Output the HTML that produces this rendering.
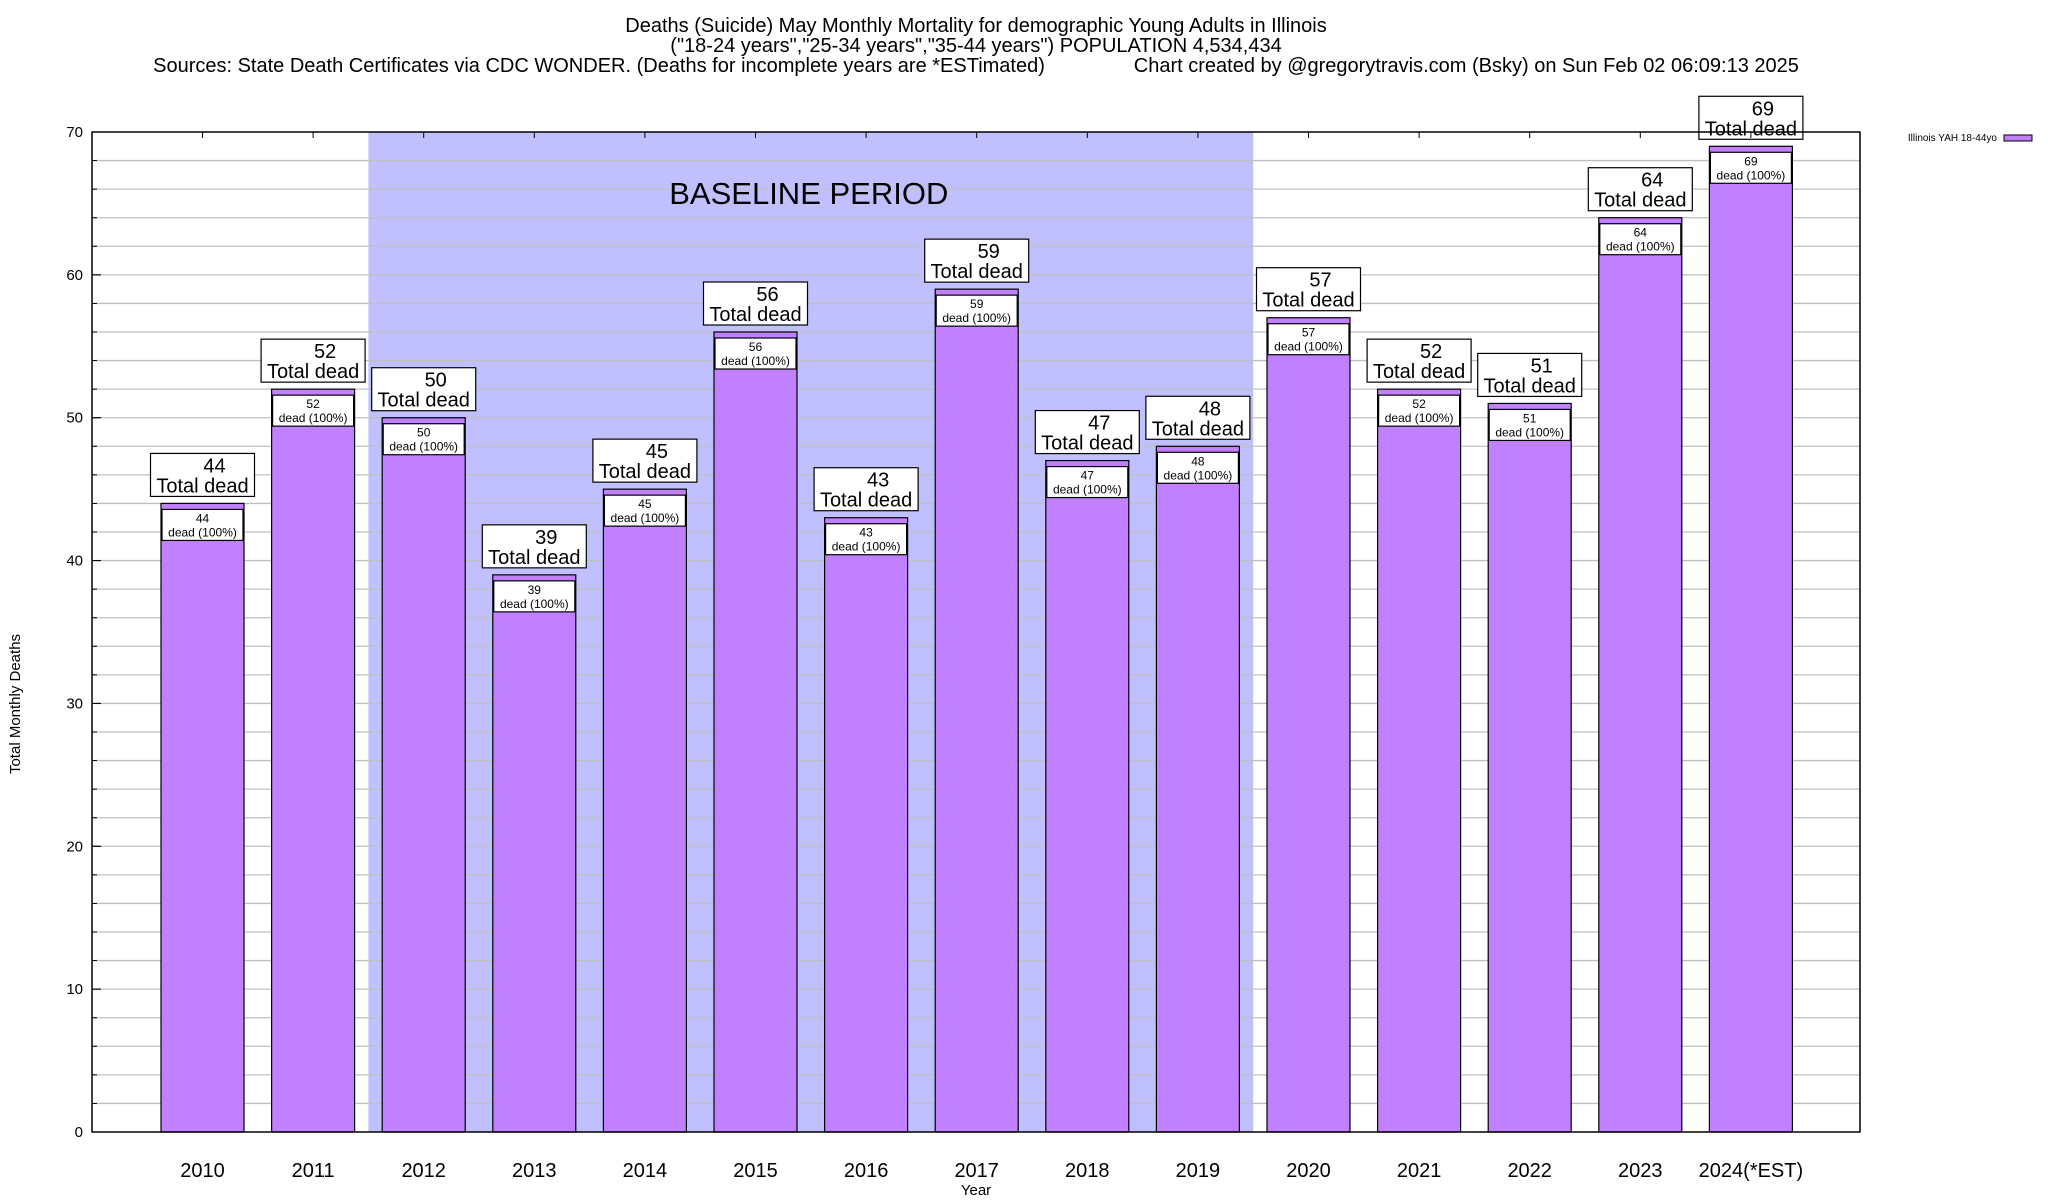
<!DOCTYPE html>
<html><head><meta charset="utf-8"><style>
body{margin:0;background:#fff}
svg{display:block;font-family:"Liberation Sans",Arial,sans-serif}
</style></head><body>
<svg id="chart" width="2048" height="1200" xmlns="http://www.w3.org/2000/svg">
<g font-size="20" text-anchor="middle">
<text x="976" y="32">Deaths (Suicide) May Monthly Mortality for demographic Young Adults in Illinois</text>
<text x="976" y="52">("18-24 years","25-34 years","35-44 years") POPULATION 4,534,434</text>
<text x="976" y="72" xml:space="preserve">Sources: State Death Certificates via CDC WONDER. (Deaths for incomplete years are *ESTimated)                Chart created by @gregorytravis.com (Bsky) on Sun Feb 02 06:09:13 2025</text>
</g>
<g id="plot"></g>
<text transform="translate(20,704) rotate(-90)" font-size="15" text-anchor="middle">Total Monthly Deaths</text>
<text x="976" y="1195" font-size="15" text-anchor="middle">Year</text>
<g>
<text x="1997" y="141" font-size="10" text-anchor="end">Illinois YAH 18-44yo</text>
<rect x="2004" y="135" width="28" height="6" fill="#c080ff" stroke="#000" stroke-width="1"/>
</g>
</svg>
<script>
const categories=["2010","2011","2012","2013","2014","2015","2016","2017","2018","2019","2020","2021","2022","2023","2024(*EST)"];
const values=[44,52,50,39,45,56,43,59,47,48,57,52,51,64,69];
const yTicks=[0,10,20,30,40,50,60,70];
const baselineRange=["2012","2019"];
const NS="http://www.w3.org/2000/svg";
const L=92,R=1860,T=132,B=1132,yMax=70;
const y=v=>B-v/yMax*(B-T);
const step=110.6,x0=202.5;
const x=i=>x0+i*step;
const g=document.getElementById('plot');
function mk(t,a,p){const e=document.createElementNS(NS,t);for(const k in a)e.setAttribute(k,a[k]);(p||g).appendChild(e);return e;}
// baseline shading
const bi0=categories.indexOf(baselineRange[0]),bi1=categories.indexOf(baselineRange[1]);
const sh=mk('rect',{x:x(bi0)-step/2,y:T,width:(bi1-bi0+1)*step,height:B-T,fill:'#c0c0ff'});


// gridlines every 2
for(let v=2;v<yMax;v+=2){const l=mk('line',{x1:L,x2:R,y1:y(v),y2:y(v),stroke:'#c0c0c0','stroke-width':1.3});


mk('line',{x1:L,x2:L+(v%10?5:9),y1:y(v),y2:y(v),stroke:'#000'});}
const bt=mk('text',{x:(x(bi0)+x(bi1))/2-2,y:204,'font-size':31,'text-anchor':'middle',stroke:'#c0c0ff','stroke-width':4,'paint-order':'stroke'});
bt.textContent='BASELINE PERIOD';


yTicks.forEach(v=>{const t=mk('text',{x:83,y:y(v)+5,'font-size':15,'text-anchor':'end'});t.textContent=v;


mk('line',{x1:L,x2:L+9,y1:y(v),y2:y(v),stroke:'#000'});});
const bw=83;
values.forEach((v,i)=>{
 const cx=x(i),top=y(v);
 const b=mk('rect',{x:cx-bw/2,y:top,width:bw,height:B-top,fill:'#c080ff',stroke:'#000','stroke-width':1.2});
 
 
 const ib=mk('rect',{x:cx-bw/2+1,y:top+6,width:bw-2,height:31,fill:'#fff',stroke:'#000','stroke-width':1.2});
 
 
 const it=mk('text',{x:cx,y:top+19,'font-size':12,'text-anchor':'middle'});it.textContent=v;
 
 
 const it2=mk('text',{x:cx,y:top+33,'font-size':12,'text-anchor':'middle'});it2.textContent='dead (100%)';
 
 
 const ob=mk('rect',{x:cx-52,y:top-50,width:104,height:43,fill:'#fff',stroke:'#000','stroke-width':1.2});
 
 
 const t1=mk('text',{x:cx+12,y:top-31,'font-size':20,'text-anchor':'middle'});t1.textContent=v;
 
 
 const t2=mk('text',{x:cx,y:top-11,'font-size':20,'text-anchor':'middle'});t2.textContent='Total dead';
 
 
 const xl=mk('text',{x:cx,y:1177,'font-size':20,'text-anchor':'middle'});xl.textContent=categories[i];
 
 
 mk('line',{x1:cx,x2:cx,y1:T,y2:T+6,stroke:'#000'});
});
const fr=mk('rect',{x:L,y:T,width:R-L,height:B-T,fill:'none',stroke:'#000','stroke-width':1.5});


</script>
</body></html>
